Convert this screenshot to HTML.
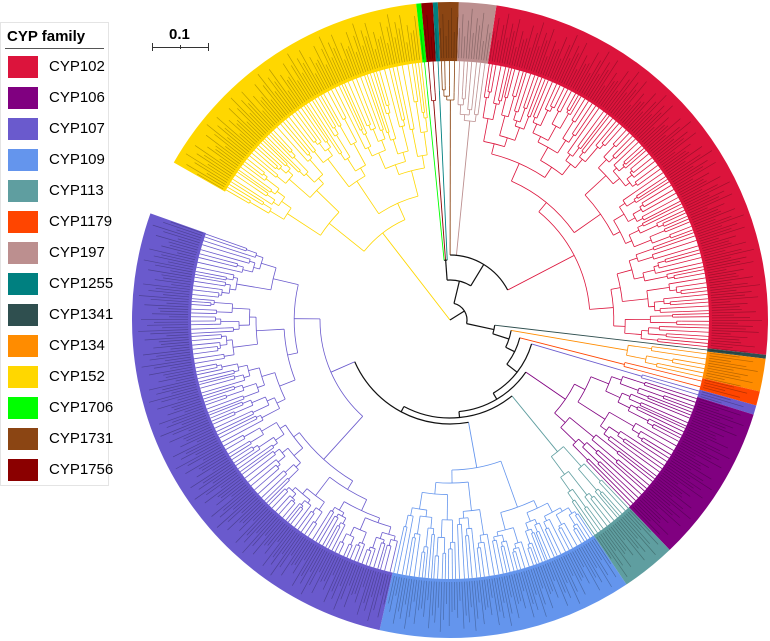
<!DOCTYPE html>
<html><head><meta charset="utf-8"><style>
html,body{margin:0;padding:0;background:#fff;width:770px;height:641px;overflow:hidden;font-family:"Liberation Sans",sans-serif}
#legend{position:absolute;left:0;top:22px;width:107px;height:462px;border:1px solid #e4e4e4;background:#fff}
#legend .t{font-weight:bold;font-size:15px;position:absolute;left:6px;top:5px}
#legend .hr{position:absolute;left:4px;right:4px;top:25px;border-top:1.5px solid #555}
.it{position:absolute;left:7px;height:22px;font-size:15px}
.sw{position:absolute;left:0;top:0;width:30px;height:22px}
.lb{position:absolute;left:41px;top:2px;white-space:nowrap}
</style></head><body>
<svg id="tree" width="770" height="641" style="position:absolute;left:0;top:0"></svg>
<div id="legend">
<div class="t">CYP family</div><div class="hr"></div>
</div>
<div style="position:absolute;left:151px;top:26px;width:60px;height:30px">
<div style="position:absolute;left:18px;top:0;font-weight:bold;font-size:15px">0.1</div>
<div style="position:absolute;left:1px;top:21px;width:57px;border-top:1.3px solid #333"></div>
<div style="position:absolute;left:1px;top:17px;height:8px;border-left:1.3px solid #333"></div>
<div style="position:absolute;left:29px;top:19px;height:4px;border-left:1.3px solid #333"></div>
<div style="position:absolute;left:57px;top:17px;height:8px;border-left:1.3px solid #333"></div>
</div>
<script>
const families=["CYP102","CYP106","CYP107","CYP109","CYP113","CYP1179","CYP197","CYP1255","CYP1341","CYP134","CYP152","CYP1706","CYP1731","CYP1756"];
const famColors=["#dc143c","#800080","#6a5acd","#6495ed","#5f9ea0","#ff4500","#bc8f8f","#008080","#2f4f4f","#ff8c00","#ffd700","#00ff00","#8b4513","#8b0000"];
// ring segments: family index, start angle, end angle (degrees, clockwise from east, continuous 209..560)
const segFamily=[0,8,9,5,2,1,4,3,2,10,11,13,7,12,6];
const segStart=[278.4,366.3,367.0,373.0,375.6,377.3,406.3,416.3,462.8,209.7,263.9,264.8,266.9,267.8,271.6];
const segEnd=[366.3,367.0,373.0,375.6,377.3,406.3,416.3,462.8,559.6,263.9,264.8,266.9,267.8,271.6,278.4];

const leg=document.getElementById('legend');
families.forEach((f,i)=>{
  const d=document.createElement('div');d.className='it';d.style.top=(33+i*31)+'px';
  
  
  d.innerHTML='<div class="sw" style="background:'+famColors[i]+'"></div><div class="lb">'+f+'</div>';
  leg.appendChild(d);
});

const svg=document.getElementById('tree');const NS='http://www.w3.org/2000/svg';
const CX=450,CY=320,RIN=259,ROUT=318;
const rad=a=>a*Math.PI/180;
const P=(r,a)=>[CX+r*Math.cos(rad(a)),CY+r*Math.sin(rad(a))];
function el(t,at,name){const e=document.createElementNS(NS,t);for(const k in at)e.setAttribute(k,at[k]);
  
  
  svg.appendChild(e);return e;}
// ring
segFamily.forEach((fi,i)=>{
  const a0=segStart[i],a1=segEnd[i];const la=(a1-a0)>180?1:0;
  const [x0,y0]=P(ROUT,a0),[x1,y1]=P(ROUT,a1),[x2,y2]=P(RIN,a1),[x3,y3]=P(RIN,a0);
  el('path',{d:`M${x0},${y0}A${ROUT},${ROUT} 0 ${la} 1 ${x1},${y1}L${x2},${y2}A${RIN},${RIN} 0 ${la} 0 ${x3},${y3}Z`,fill:famColors[fi]},'ring-'+families[fi].toLowerCase());
  const lens=[30,44,22,38,50,26,41,34,47,19,36,28];
  let k=0;let d='';
  for(let a=a0+0.3;a<a1-0.1;a+=0.55){const L=lens[k++%lens.length];const [u,v]=P(RIN+3,a),[w,z]=P(RIN+3+L,a);d+=`M${u},${v}L${w},${z}`;}
  el('path',{d,stroke:'#000','stroke-opacity':0.28,'stroke-width':0.7,fill:'none'},'leaf-labels-'+families[fi].toLowerCase());
});
const fr=[0.38,0.62,0.45,0.7,0.3,0.55,0.5,0.4,0.66];
const kl=[0.14,0.3,0.2,0.38,0.1,0.25,0.18,0.45,0.12];
let cnt=0;
function arc(r,a0,a1,col,w){if(a1-a0<0.01)return;const [x0,y0]=P(r,a0),[x1,y1]=P(r,a1);
  el('path',{d:`M${x0},${y0}A${r},${r} 0 ${a1-a0>180?1:0} 1 ${x1},${y1}`,stroke:col,fill:'none','stroke-width':w},'branch-arc');}
function line(r0,r1,a,col,w){const [x0,y0]=P(r0,a),[x1,y1]=P(r1,a);el('line',{x1:x0,y1:y0,x2:x1,y2:y1,stroke:col,'stroke-width':w},'branch');}
function gen(a0,a1,r,col,depth){
  const n=Math.max(1,Math.round((a1-a0)/0.9));
  if(n===1||depth>12){const m=(a0+a1)/2;line(r,RIN,m,col,0.8);return m;}
  const f=fr[(cnt++)%fr.length];const s=a0+(a1-a0)*f;
  const ch=[[a0,s],[s,a1]].map(([b0,b1])=>{
    const rr=Math.min(RIN-6,r+(RIN-r)*kl[(cnt++)%kl.length]);
    const m=gen(b0,b1,rr,col,depth+1);line(r,rr,m,col,0.8);return m;});
  arc(r,ch[0],ch[1],col,0.8);return (ch[0]+ch[1])/2;
}
function C(si,r){return {seg:si,r};}
const tree={r:0,kids:[C(9,110),{r:17,kids:[
  {r:40,kids:[{r:60,kids:[C(10,230),C(11,220),C(12,230)]},{r:65,kids:[C(13,220),C(14,200),C(0,140)]}]},
  {r:45,kids:[C(1,230),{r:62,kids:[C(2,180),{r:72,kids:[C(3,180),{r:85,kids:[C(4,200),{r:92,kids:[C(5,140),{r:98,kids:[C(6,170),{r:104,kids:[C(7,150),C(8,130)]}]}]}]}]}]}]}
]}]};
function draw(n,pr){
  if(n.seg!==undefined){const fi=segFamily[n.seg];const col=famColors[fi];
    const m=gen(segStart[n.seg],segEnd[n.seg],n.r,col,0);line(pr,n.r,m,col,0.9);return m;}
  const angs=n.kids.map(k=>draw(k,n.r));
  const mn=Math.min(...angs),mx=Math.max(...angs);
  if(n.r>0)arc(n.r,mn,mx,'#111',1.2);
  const m=(mn+mx)/2; if(n.r>0)line(pr,n.r,m,'#111',1.2);return m;
}
draw(tree,0);
</script>
</body></html>
